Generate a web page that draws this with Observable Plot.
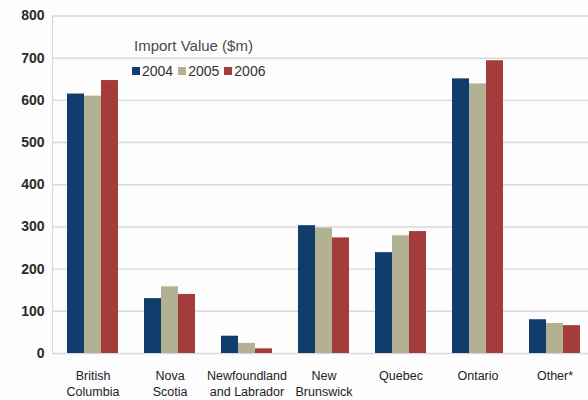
<!DOCTYPE html>
<html>
<head>
<meta charset="utf-8">
<script src="https://cdn.jsdelivr.net/npm/d3@7"></script>
<script src="https://cdn.jsdelivr.net/npm/@observablehq/plot@0.6"></script>
<style>
  html, body { margin: 0; padding: 0; background: #fdfdfd; }
  #wrap { position: relative; width: 588px; height: 400px; font-family: "Liberation Sans", Arial, sans-serif; }
  #legend { position: absolute; left: 134px; top: 37px; color: #4a4a4a; }
  #legend .title { font-size: 15px; line-height: 18px; }
  #legend .items { display: flex; align-items: center; margin-top: 8px; margin-left: -2px; font-size: 14px; color: #333; }
  #legend .item { display: flex; align-items: center; margin-right: 5px; }
  #legend .sw { width: 8px; height: 8px; margin-right: 2px; }
</style>
</head>
<body>
<div id="wrap">
  <div id="chart"></div>
  <div id="legend"></div>
</div>
<script>
// Import value by province, $ millions
const provinces = ["British Columbia", "Nova Scotia", "Newfoundland and Labrador", "New Brunswick", "Quebec", "Ontario", "Other*"];
const provinceLabels = ["British\nColumbia", "Nova\nScotia", "Newfoundland\nand Labrador", "New\nBrunswick", "Quebec", "Ontario", "Other*"];
const years = ["2004", "2005", "2006"];
const values2004 = [615, 130, 41, 303, 239, 651, 80];
const values2005 = [610, 158, 24, 297, 279, 639, 71];
const values2006 = [647, 140, 11, 274, 289, 694, 66];
const yearColors = ["#103d6b", "#b2b193", "#a33c3a"];
const yTicks = [0, 100, 200, 300, 400, 500, 600, 700, 800];
const legendTitle = "Import Value ($m)";

const series = [values2004, values2005, values2006];
const data = provinces.flatMap((province, i) =>
  years.map((year, j) => ({province, year, value: series[j][i]}))
);
const labelOf = new Map(provinces.map((p, i) => [p, provinceLabels[i]]));

const chart = Plot.plot({
  width: 588,
  height: 400,
  marginTop: 15.5,
  marginBottom: 47,
  marginLeft: 52,
  marginRight: 0,
  style: {fontFamily: "'Liberation Sans', Arial, sans-serif", background: "#fdfdfd", color: "#2a2a2a"},
  fx: {domain: provinces, range: [52, 591], padding: 0, axis: null},
  x: {domain: years, paddingInner: 0, paddingOuter: 0.72, align: 0.58, axis: null},
  y: {domain: [0, 800], axis: null},
  color: {domain: years, range: yearColors},
  marks: [
    Plot.gridY(yTicks, {stroke: "#d9d9d9", strokeOpacity: 1, strokeWidth: 1.4}),
    Plot.frame({anchor: "left", facetAnchor: "left", stroke: "#d9d9d9", strokeWidth: 1.2}),
    Plot.barY(data, {fx: "province", x: "year", y: "value", fill: "year"}),
    Plot.axisY(yTicks, {anchor: "left", tickSize: 0, tickPadding: 8, fontSize: 14, fontWeight: "bold", fill: "#2a2a2a", label: null}),
    Plot.axisFx({anchor: "bottom", tickSize: 0, tickPadding: 15, fontSize: 12.5, fill: "#222", lineHeight: 1.28, dx: 2, tickFormat: d => labelOf.get(d), label: null})
  ]
});
document.getElementById("chart").appendChild(chart);

// Legend block placed over the plot area
const legend = document.getElementById("legend");
const title = document.createElement("div");
title.className = "title";
title.textContent = legendTitle;
legend.appendChild(title);
const items = document.createElement("div");
items.className = "items";
years.forEach((y, i) => {
  const item = document.createElement("div");
  item.className = "item";
  const sw = document.createElement("span");
  sw.className = "sw";
  sw.style.background = yearColors[i];
  const t = document.createElement("span");
  t.textContent = y;
  item.appendChild(sw);
  item.appendChild(t);
  items.appendChild(item);
});
legend.appendChild(items);
</script>
</body>
</html>
